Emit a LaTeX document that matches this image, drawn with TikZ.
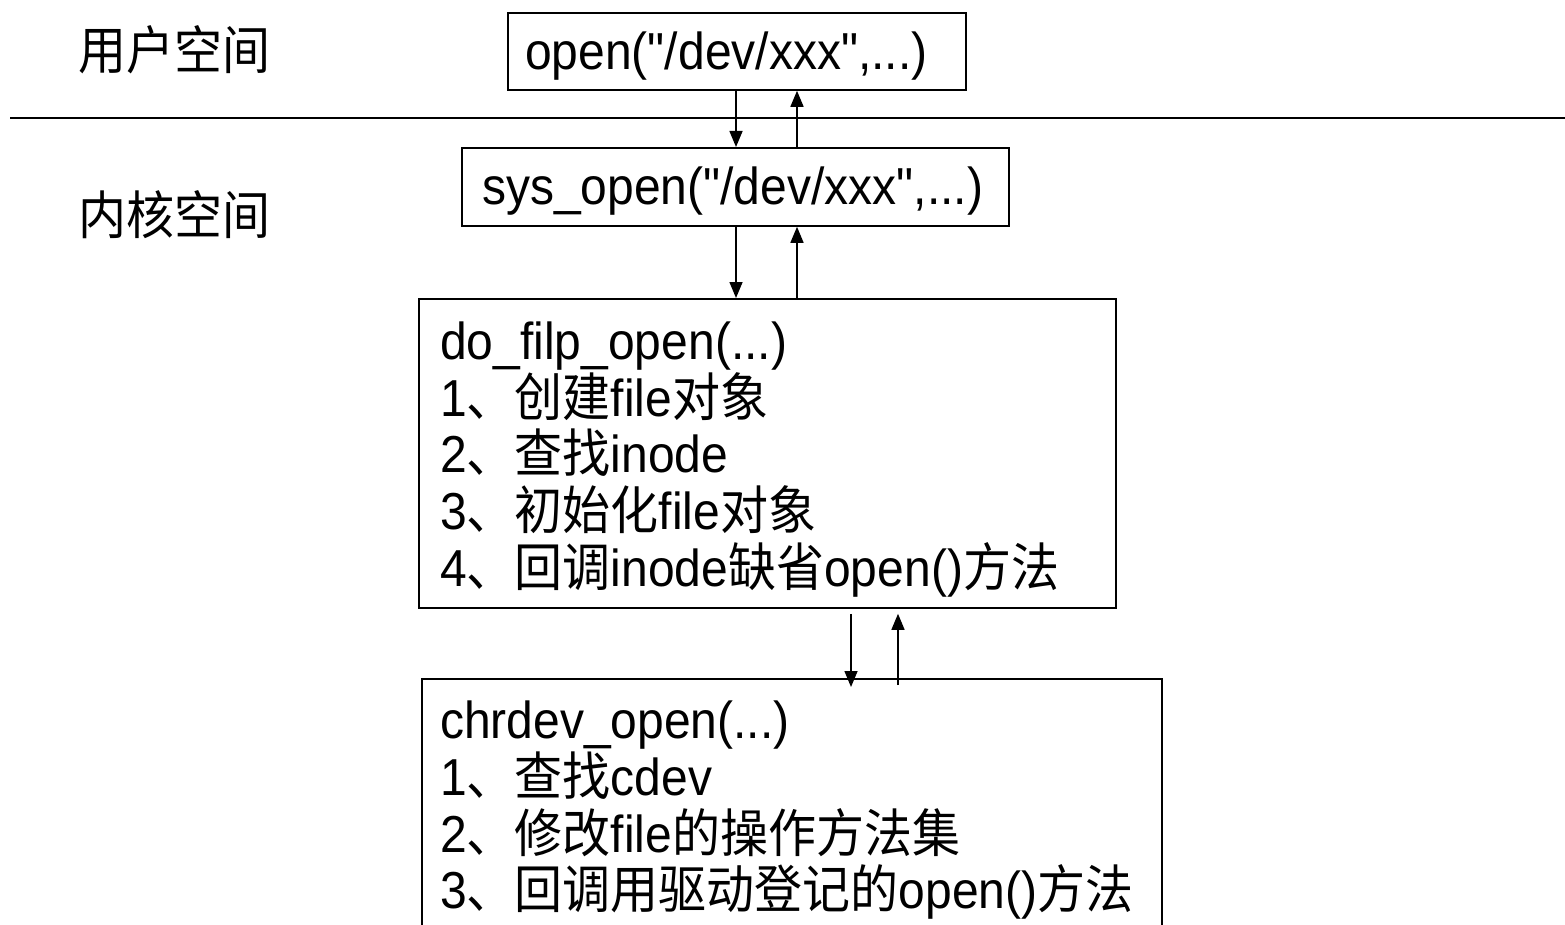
\documentclass[tikz,border=0pt]{standalone}
\usepackage{fontspec}
\setmainfont{Liberation Sans}[FakeStretch=0.923, Ligatures=TeXOff]
\newfontfamily\cjk{Noto Sans CJK SC}[FakeStretch=0.923]
\usetikzlibrary{arrows.meta,calc}
\begin{document}
\begin{tikzpicture}[x=1pt,y=-1pt,
  box/.style={draw, line width=1.8pt, rectangle, anchor=north west, inner sep=0pt},
  txt/.style={anchor=west, align=left, inner sep=0pt, font=\fontsize{52}{56.7}\selectfont},
  flow/.style={line width=1.5pt, -{Triangle[length=16pt,width=13pt]}},
  lbl/.style={font=\fontsize{52}{56.7}\selectfont\cjk, anchor=west, inner sep=0pt}]
\fill[white] (0,0) rectangle (1565,925);
\useasboundingbox (0,0) rectangle (1565,925);

\node[lbl] (u) at (78,50) {用户空间};
\node[lbl] (k) at (78,215) {内核空间};

\coordinate (L) at (10,118);
\coordinate (R) at (1565,118);
\draw[line width=1.8pt] (L) -- (R);

\node[box, minimum width=458pt, minimum height=77pt] (b1) at (507,12) {};
\node[box, minimum width=547pt, minimum height=78pt] (b2) at (461,147) {};
\node[box, minimum width=697pt, minimum height=309pt] (b3) at (418,298) {};
\node[box, minimum width=740pt, minimum height=257pt] (b4) at (421,678) {};

\node[txt] (t1) at ($(b1.west)+(18,5)$) {open("/dev/xxx",...)};
\node[txt] (t2) at ($(b2.west)+(21,4)$) {sys\_open("/dev/xxx",...)};
\node[txt] (t3) at ($(b3.west)+(22,6)$)
  {do\_filp\_open(...)\\
   1{\cjk 、创建}file{\cjk 对象}\\
   2{\cjk 、查找}inode\\
   3{\cjk 、初始化}file{\cjk 对象}\\
   4{\cjk 、回调}inode{\cjk 缺省}open(){\cjk 方法}};
\node[txt] (t4) at ($(b4.west)+(19,3)$)
  {chrdev\_open(...)\\
   1{\cjk 、查找}cdev\\
   2{\cjk 、修改}file{\cjk 的操作方法集}\\
   3{\cjk 、回调用驱动登记的}open(){\cjk 方法}};

\coordinate (c1) at (736,0);
\coordinate (c2) at (797,0);
\coordinate (c3) at (851,0);
\coordinate (c4) at (898,0);

\draw[flow] (b1.south -| c1) -- (b2.north -| c1);
\draw[flow] (b2.north -| c2) -- (b1.south -| c2);
\draw[flow] (b2.south -| c1) -- (b3.north -| c1);
\draw[flow] (b3.north -| c2) -- (b2.south -| c2);
\draw[flow, shorten <=5pt, shorten >=-9pt] (b3.south -| c3) -- (b4.north -| c3);
\draw[flow, shorten <=-7pt, shorten >=5pt] (b4.north -| c4) -- (b3.south -| c4);
\end{tikzpicture}
\end{document}
